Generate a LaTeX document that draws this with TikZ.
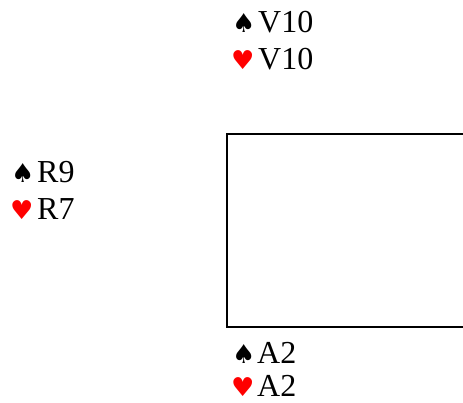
\documentclass[tikz,border=0pt]{standalone}
\usepackage{fontspec}
\setmainfont{Liberation Serif}
\newfontfamily\symfont{DejaVu Sans}
\begin{document}
\begin{tikzpicture}[x=1pt,y=-1pt,
  hand/.style={inner sep=0pt,anchor=base west,text depth=0pt,font=\fontsize{32}{36}\selectfont},
  sym/.style={inner sep=0pt,anchor=base west,text depth=0pt,font=\symfont\fontsize{26}{30}\selectfont},
  box/.style={draw,line width=2pt}]
\useasboundingbox (0,0) rectangle (463,403);
\draw[box] (470,134) -- (227,134) -- (227,327) -- (470,327);
\node[sym] (ns) at (232,33) {♠};
\node[hand] (nst) at (258,33) {V10};
\node[sym,red] (nh) at (231,70) {♥};
\node[hand] (nht) at (258,70) {V10};
\node[sym] (ws) at (11,183) {♠};
\node[hand] (wst) at (37,183) {R9};
\node[sym,red] (wh) at (10,220) {♥};
\node[hand] (wht) at (37,220) {R7};
\node[sym] (ss) at (232,363) {♠};
\node[hand] (sst) at (257,363) {A2};
\node[sym,red] (sh) at (231,396) {♥};
\node[hand] (sht) at (257,396) {A2};
\end{tikzpicture}
\end{document}
